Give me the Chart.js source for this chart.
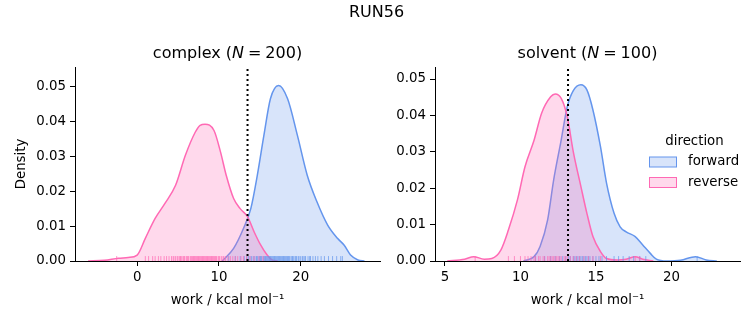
<!DOCTYPE html>
<html>
<head>
<meta charset="utf-8">
<title>RUN56 work distributions</title>
<script src="https://cdn.jsdelivr.net/npm/chart.js@4/dist/chart.umd.min.js"></script>
<style>
  html, body { margin: 0; padding: 0; background: #ffffff; }
  #wrap { position: relative; width: 753px; height: 325px; }
  #wrap canvas { position: absolute; left: 0; top: 0; }
</style>
</head>
<body>
<div id="wrap">
  <canvas id="complexChart" width="753" height="325"></canvas>
  <canvas id="solventChart" width="753" height="325"></canvas>
</div>
<script>
// ---- complex leg: KDE of work values (kcal/mol) ----
const complexForwardX = [10.4, 11.8, 13.0, 13.9, 14.7, 15.5, 16.3, 17.3, 18.4, 19.6, 20.8, 22.0, 23.3, 24.5, 25.3, 26.1, 27.0, 27.8];
const complexForwardY = [0.0, 0.0036, 0.0093, 0.015, 0.0246, 0.036, 0.0465, 0.0503, 0.0465, 0.036, 0.0246, 0.0169, 0.0103, 0.0065, 0.0046, 0.0017, 0.0003, 0.0];
const complexReverseX = [-6.0, -4.0, -2.3, -1.1, 0.0, 1.0, 2.2, 3.4, 4.7, 5.9, 7.1, 7.7, 8.3, 9.4, 10.2, 10.9, 11.8, 12.6, 13.5, 14.3, 15.1, 15.9, 16.5, 17.2];
const complexReverseY = [0.0, 0.0002, 0.0008, 0.001, 0.0017, 0.0065, 0.0122, 0.0165, 0.0217, 0.0303, 0.0369, 0.0389, 0.0392, 0.0374, 0.0312, 0.0245, 0.0179, 0.015, 0.0127, 0.0084, 0.0046, 0.0017, 0.0003, 0.0];
const complexForwardRug = [11.2, 12.0, 12.6, 13.1, 13.4, 13.6, 13.8, 14.0, 14.2, 14.4, 14.6, 14.7, 14.9, 15.0, 15.1, 15.2, 15.4, 15.5, 15.6, 15.7, 15.8, 15.9, 16.0, 16.1, 16.2, 16.3, 16.4, 16.5, 16.6, 16.7, 16.8, 16.9, 17.0, 17.1, 17.2, 17.3, 17.4, 17.5, 17.6, 17.7, 17.8, 17.9, 18.0, 18.1, 18.2, 18.3, 18.4, 18.5, 18.6, 18.7, 18.9, 19.0, 19.1, 19.3, 19.4, 19.5, 19.7, 19.8, 20.0, 20.2, 20.3, 20.5, 20.6, 20.9, 21.1, 21.2, 21.5, 21.8, 22.1, 22.5, 22.9, 23.4, 23.9, 24.4, 24.9, 25.1];
const complexReverseRug = [-2.5, 1.0, 1.4, 1.9, 2.2, 2.6, 2.9, 3.3, 3.6, 3.9, 4.2, 4.4, 4.5, 4.7, 4.9, 5.0, 5.2, 5.3, 5.4, 5.6, 5.7, 5.8, 6.0, 6.1, 6.2, 6.3, 6.5, 6.6, 6.7, 6.8, 6.9, 7.0, 7.1, 7.2, 7.3, 7.4, 7.5, 7.6, 7.7, 7.8, 7.9, 8.0, 8.1, 8.2, 8.3, 8.4, 8.5, 8.6, 8.7, 8.8, 8.9, 9.0, 9.1, 9.2, 9.3, 9.4, 9.5, 9.6, 9.7, 9.9, 10.0, 10.1, 10.3, 10.5, 10.6, 10.8, 11.1, 11.4, 11.7, 12.0, 12.3, 12.7, 13.0, 13.4, 13.8, 14.3, 14.9, 15.4];
const complexEstimate = 13.5;

// ---- solvent leg ----
const solventForwardX = [10.2, 10.9, 11.3, 11.8, 12.2, 12.7, 13.1, 13.5, 14.0, 14.4, 14.8, 15.3, 15.7, 16.2, 16.6, 17.0, 17.6, 18.1, 18.6, 19.0, 19.7, 20.6, 21.6, 22.3, 23.0];
const solventForwardY = [0.0, 0.0012, 0.004, 0.0113, 0.0223, 0.0333, 0.0424, 0.0468, 0.0484, 0.047, 0.0415, 0.0314, 0.0214, 0.0131, 0.0094, 0.008, 0.0067, 0.0044, 0.0021, 0.0005, 0.0, 0.0002, 0.0012, 0.0003, 0.0];
const solventReverseX = [5.15, 6.3, 6.9, 7.6, 8.1, 8.7, 9.2, 9.8, 10.3, 10.9, 11.4, 12.0, 12.3, 12.7, 13.1, 13.5, 14.0, 14.4, 14.8, 15.3, 15.7, 16.4, 17.0, 17.6, 18.1, 18.8];
const solventReverseY = [0.0, 0.0005, 0.0012, 0.0005, 0.0007, 0.003, 0.0085, 0.0168, 0.0259, 0.0332, 0.0406, 0.0451, 0.0459, 0.0447, 0.0397, 0.030, 0.0205, 0.0131, 0.0067, 0.0026, 0.0007, 0.0003, 0.0005, 0.0012, 0.0005, 0.0];
const solventForwardRug = [11.0, 11.6, 12.0, 12.3, 12.6, 12.8, 13.0, 13.2, 13.3, 13.5, 13.6, 13.7, 13.8, 13.9, 14.0, 14.1, 14.2, 14.3, 14.4, 14.5, 14.6, 14.8, 15.0, 15.2, 15.4, 15.7, 16.2, 16.5, 16.8, 17.2, 17.5, 17.9, 18.3, 21.7];
const solventReverseRug = [7.0, 9.2, 9.6, 10.0, 10.3, 10.5, 10.7, 10.9, 11.0, 11.2, 11.3, 11.5, 11.6, 11.8, 11.9, 12.0, 12.1, 12.2, 12.3, 12.4, 12.5, 12.6, 12.7, 12.9, 13.0, 13.1, 13.3, 13.5, 13.7, 13.9, 14.2, 14.5, 14.8, 15.3, 17.6, 17.9];
const solventEstimate = 13.15;

const directionLabels = ['forward', 'reverse'];

// ---- styling ----
const FONT = '"DejaVu Sans", "Liberation Sans", sans-serif';
const BLUE = 'rgb(100,149,237)';
const BLUE_FILL = 'rgba(100,149,237,0.25)';
const PINK = 'rgb(255,105,180)';
const PINK_FILL = 'rgba(255,105,180,0.25)';
const RUG_FRACTION = 0.025; // rug height as a fraction of the axes height

function zip(xs, ys) { return xs.map((x, i) => ({ x: x, y: ys[i] })); }

function buildDatasets(fx, fy, rx, ry, fRug, rRug, estimate, yMax) {
  const rugY = yMax * RUG_FRACTION / 2;
  return [
    { // free-energy estimate marker
      data: [{ x: estimate, y: 0 }, { x: estimate, y: yMax }],
      borderColor: '#000', borderWidth: 2, borderDash: [2, 3],
      pointRadius: 0, fill: false
    },
    {
      data: rRug.map(v => ({ x: v, y: rugY })),
      showLine: false, pointStyle: 'line', rotation: 90, pointRadius: 2.5,
      pointBorderColor: 'rgba(255,105,180,0.7)', pointBorderWidth: 1, fill: false
    },
    {
      data: fRug.map(v => ({ x: v, y: rugY })),
      showLine: false, pointStyle: 'line', rotation: 90, pointRadius: 2.5,
      pointBorderColor: 'rgba(100,149,237,0.7)', pointBorderWidth: 1, fill: false
    },
    {
      label: directionLabels[1], data: zip(rx, ry),
      borderColor: PINK, backgroundColor: PINK_FILL, borderWidth: 1.5,
      pointRadius: 0, fill: 'origin', cubicInterpolationMode: 'monotone'
    },
    {
      label: directionLabels[0], data: zip(fx, fy),
      borderColor: BLUE, backgroundColor: BLUE_FILL, borderWidth: 1.5,
      pointRadius: 0, fill: 'origin', cubicInterpolationMode: 'monotone'
    }
  ];
}

// Subplot title with an italic symbol, plus optional figure title
const titlePlugin = {
  id: 'panelTitle',
  afterDraw(chart) {
    const o = chart.options.plugins.panelTitle;
    if (!o) return;
    const ctx = chart.ctx, ca = chart.chartArea;
    ctx.save();
    ctx.fillStyle = '#000';
    ctx.textBaseline = 'middle';
    const reg = '16px ' + FONT, ita = 'italic 16px ' + FONT;
    ctx.font = reg;
    const w1 = ctx.measureText(o.pre).width;
    const gap = 4;
    const w3 = ctx.measureText('=').width;
    const w4 = ctx.measureText(o.post).width;
    ctx.font = ita;
    const w2 = ctx.measureText(o.sym).width;
    const total = w1 + w2 + gap + w3 + gap + w4;
    let x = (ca.left + ca.right) / 2 - total / 2;
    const y = ca.top - 13;
    ctx.textAlign = 'left';
    ctx.font = reg; ctx.fillText(o.pre, x, y); x += w1;
    ctx.font = ita; ctx.fillText(o.sym, x, y); x += w2 + gap;
    ctx.font = reg; ctx.fillText('=', x, y); x += w3 + gap;
    ctx.fillText(o.post, x, y);
    if (o.figureTitle) {
      ctx.textAlign = 'center';
      ctx.fillText(o.figureTitle, chart.width / 2, 13);
    }
    ctx.restore();
  }
};

// Hue legend drawn inside the axes
const legendPlugin = {
  id: 'directionLegend',
  afterDraw(chart) {
    const o = chart.options.plugins.directionLegend;
    if (!o || !o.show) return;
    const ctx = chart.ctx, ca = chart.chartArea;
    ctx.save();
    ctx.font = '13.33px ' + FONT;
    ctx.fillStyle = '#000';
    ctx.textBaseline = 'middle';
    ctx.textAlign = 'center';
    ctx.fillText(o.title, ca.right - 45.5, 141.5);
    const entries = [
      { label: directionLabels[0], fill: BLUE_FILL, edge: BLUE, y: 162 },
      { label: directionLabels[1], fill: PINK_FILL, edge: PINK, y: 182.5 }
    ];
    entries.forEach(e => {
      const px = ca.right - 90.5;
      ctx.fillStyle = e.fill;
      ctx.fillRect(px, e.y - 5, 27, 10);
      ctx.strokeStyle = e.edge;
      ctx.lineWidth = 1;
      ctx.strokeRect(px, e.y - 5, 27, 10);
      ctx.fillStyle = '#000';
      ctx.textAlign = 'left';
      ctx.fillText(e.label, ca.right - 52, e.y);
    });
    ctx.restore();
  }
};

function axisCommon() {
  return {
    grid: { display: true, drawOnChartArea: false, drawTicks: true, tickLength: 5, tickWidth: 1, tickColor: '#000' },
    border: { display: true, color: '#000', width: 1 },
    ticks: { color: '#000', font: { family: FONT, size: 13.33 }, padding: 4, includeBounds: false }
  };
}

function makeChart(canvasId, cfg) {
  const x = axisCommon();
  Object.assign(x, {
    type: 'linear', min: cfg.xMin, max: cfg.xMax,
    afterFit(s) { s.height = 64; },
    title: { display: true, text: 'work / kcal mol⁻¹', color: '#000', font: { family: FONT, size: 13.33 }, padding: { top: 0, bottom: 16 } }
  });
  x.ticks = Object.assign(x.ticks, { stepSize: cfg.xStep, maxRotation: 0, callback: v => String(v) });

  const y = axisCommon();
  Object.assign(y, {
    type: 'linear', min: 0, max: cfg.yMax,
    afterFit(s) { s.width = cfg.yWidth; },
    title: { display: cfg.yTitle, text: 'Density', color: '#000', font: { family: FONT, size: 13.33 }, padding: { top: 14, bottom: 0 } }
  });
  y.ticks = Object.assign(y.ticks, { stepSize: 0.01, callback: v => v.toFixed(2) });

  return new Chart(document.getElementById(canvasId), {
    type: 'line',
    data: { datasets: cfg.datasets },
    options: {
      responsive: false, animation: false, devicePixelRatio: 1,
      layout: { padding: { left: 0, top: 67, right: cfg.rightPad, bottom: 0 } },
      scales: { x: x, y: y },
      plugins: {
        legend: { display: false }, tooltip: { enabled: false },
        panelTitle: cfg.title,
        directionLegend: { show: cfg.showLegend, title: 'direction' }
      }
    },
    plugins: [titlePlugin, legendPlugin]
  });
}

const complexYMax = 0.0556;
makeChart('complexChart', {
  xMin: -7.6, xMax: 29.7, xStep: 10, yMax: complexYMax, yWidth: 75, rightPad: 373, yTitle: true,
  title: { pre: 'complex (', sym: 'N', post: '200)', figureTitle: 'RUN56' },
  showLegend: false,
  datasets: buildDatasets(complexForwardX, complexForwardY, complexReverseX, complexReverseY,
                          complexForwardRug, complexReverseRug, complexEstimate, complexYMax)
});

const solventYMax = 0.0533;
makeChart('solventChart', {
  xMin: 4.34, xMax: 24.54, xStep: 5, yMax: solventYMax, yWidth: 435, rightPad: 13, yTitle: false,
  title: { pre: 'solvent (', sym: 'N', post: '100)' },
  showLegend: true,
  datasets: buildDatasets(solventForwardX, solventForwardY, solventReverseX, solventReverseY,
                          solventForwardRug, solventReverseRug, solventEstimate, solventYMax)
});
</script>
</body>
</html>
